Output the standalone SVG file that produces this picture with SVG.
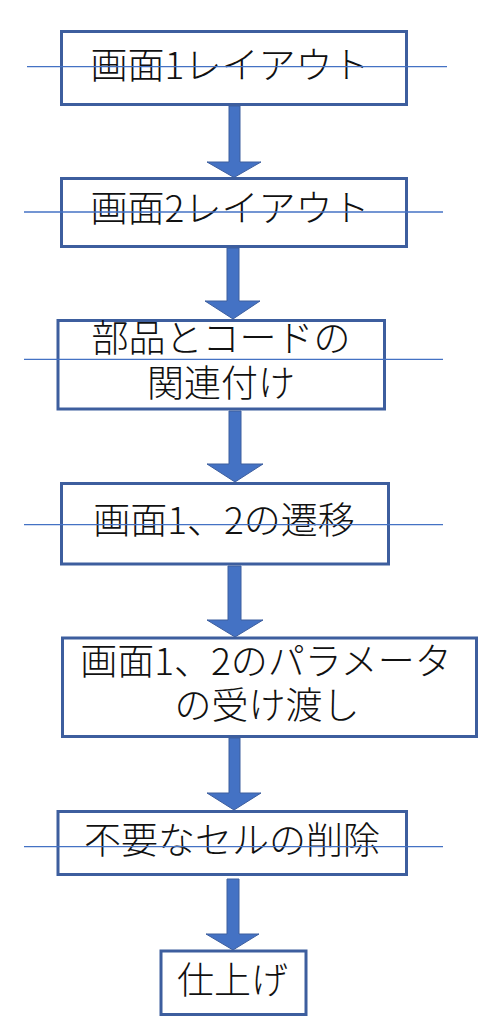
<svg xmlns="http://www.w3.org/2000/svg" width="489" height="1024" viewBox="0 0 489 1024">
<style>
.box{fill:#ffffff;stroke:#3D5E9E;stroke-width:3}
.lbl{font-family:"Noto Sans CJK JP","Noto Sans CJK SC",sans-serif;font-size:37px;font-weight:300;fill:#111111;text-anchor:middle}
.arr{fill:#4472C4;stroke:#3D5E9E;stroke-width:1}
.hl{stroke:#4472C4;stroke-width:1.3;fill:none}
</style>
<rect width="489" height="1024" fill="#ffffff"/>
<g id="connectors">
<polygon class="arr" points="229,106 240,106 240,162 261,162 234,177.5 207,162 229,162"/>
<polygon class="arr" points="227,248 239,248 239,301 260,301 233,319 205,301 227,301"/>
<polygon class="arr" points="229,411 241,411 241,464 263,464 235,482 207,464 229,464"/>
<polygon class="arr" points="228,566 241,566 241,620 263,620 235,637 207,620 228,620"/>
<polygon class="arr" points="229,738 240,738 240,793 261,793 234,810 207,793 229,793"/>
<polygon class="arr" points="227,879 239,879 239,934 259,934 233,950 206,934 227,934"/>
</g>
<g id="n1"><rect class="box" x="61.5" y="31.5" width="345" height="73"/><text class="lbl" x="230" y="79">画面1レイアウト</text></g>
<g id="n2"><rect class="box" x="61.5" y="178.5" width="345" height="68"/><text class="lbl" x="230" y="222">画面2レイアウト</text></g>
<g id="n3"><rect class="box" x="58" y="320.5" width="326.5" height="88.5"/><text class="lbl" x="221" y="352">部品とコードの</text><text class="lbl" x="221" y="397">関連付け</text></g>
<g id="n4"><rect class="box" x="61.5" y="483.5" width="327" height="80.5"/><text class="lbl" x="224" y="534">画面1、2の遷移</text></g>
<g id="n5"><rect class="box" x="62.5" y="638" width="414" height="98.5"/><text class="lbl" x="266" y="675">画面1、2のパラメータ</text><text class="lbl" x="267" y="719">の受け渡し</text></g>
<g id="n6"><rect class="box" x="58" y="811.5" width="348.5" height="63"/><text class="lbl" x="232" y="854">不要なセルの削除</text></g>
<g id="n7"><rect class="box" x="161" y="951" width="145" height="63.5"/><text class="lbl" x="232.5" y="994">仕上げ</text></g>
<g id="strike-lines">
<line class="hl" x1="27" y1="66.7" x2="447" y2="66.7"/>
<line class="hl" x1="24" y1="212" x2="443" y2="212"/>
<line class="hl" x1="24" y1="359.3" x2="443" y2="359.3"/>
<line class="hl" x1="24" y1="524.7" x2="443" y2="524.7"/>
<line class="hl" x1="24" y1="846.7" x2="443" y2="846.7"/>
</g>
</svg>
